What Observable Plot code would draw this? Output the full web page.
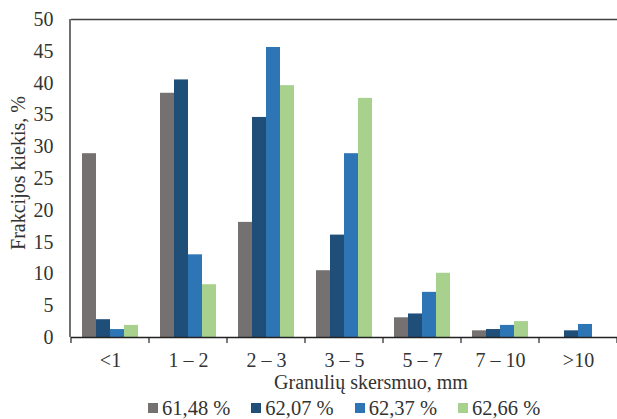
<!DOCTYPE html>
<html>
<head>
<meta charset="utf-8">
<script src="https://cdn.jsdelivr.net/npm/d3@7"></script>
<script src="https://cdn.jsdelivr.net/npm/@observablehq/plot@0.6"></script>
<style>
  html, body { margin: 0; padding: 0; background: #fff; overflow: hidden; }
  #chart svg { display: block; }
  #legend { display: flex; justify-content: flex-start; padding-left: 148px; gap: 21px; font-family: "Liberation Serif", "Times New Roman", serif; font-size: 20.5px; color: #333; height: 26px; align-items: center; }
  #legend .item { display: flex; align-items: center; }
  #legend .sw { width: 10px; height: 10px; margin-right: 4px; }
</style>
</head>
<body>
<div id="chart"></div>
<div id="legend"></div>
<script>
const categories = ["<1", "1 – 2", "2 – 3", "3 – 5", "5 – 7", "7 – 10", ">10"];
const seriesNames = ["61,48 %", "62,07 %", "62,37 %", "62,66 %"];
const s6148 = [28.9, 38.4, 18.1, 10.5, 3.1, 1.05, 0];
const s6207 = [2.8, 40.5, 34.6, 16.1, 3.7, 1.25, 1.05];
const s6237 = [1.25, 13.0, 45.6, 28.9, 7.1, 1.9, 2.05];
const s6266 = [1.9, 8.3, 39.6, 37.6, 10.1, 2.5, 0];
const yTicks = [0, 5, 10, 15, 20, 25, 30, 35, 40, 45, 50];
const colors = ["#767171", "#1F4E79", "#2E75B6", "#A9D18E"];
const xTitle = "Granulių skersmuo, mm";
const yTitle = "Frakcijos kiekis, %";

const seriesValues = [s6148, s6207, s6237, s6266];
const data = [];
categories.forEach((c, i) => {
  seriesNames.forEach((s, j) => {
    data.push({cat: c, series: s, value: seriesValues[j][i]});
  });
});

const W = 617, H = 395;
const plot = Plot.plot({
  width: W,
  height: H,
  marginLeft: 70,
  marginRight: 0,
  marginTop: 19,
  marginBottom: 58,
  style: {fontFamily: "'Liberation Serif', 'Times New Roman', serif", fontSize: "20px", color: "#333", background: "#fff"},
  fx: {domain: categories, padding: 0, label: null},
  x: {domain: seriesNames, paddingInner: 0, paddingOuter: 0.75, axis: null},
  y: {domain: [0, 50], label: null},
  color: {domain: seriesNames, range: colors},
  marks: [
    Plot.barY(data, {fx: "cat", x: "series", y: "value", fill: "series"}),
    Plot.ruleY([50], {stroke: "#404040", strokeWidth: 1.5}),
    Plot.ruleY([0], {stroke: "#222", strokeWidth: 1.5}),
    Plot.axisY({ticks: yTicks, tickSize: 0, tickPadding: 18, fontSize: 20, label: null, fill: "#333"}),
    Plot.axisFx({anchor: "bottom", tickSize: 0, tickPadding: 15, fontSize: 20, label: null, fill: "#333"})
  ]
});
document.getElementById("chart").appendChild(plot);

// Frame left edge, category boundary ticks, axis titles drawn from the Plot scales
const svg = d3.select(plot);
const fx = plot.scale("fx");
const y = plot.scale("y");
const x0 = fx.range[0];
svg.append("line")
  .attr("x1", x0).attr("x2", x0)
  .attr("y1", y.apply(50)).attr("y2", y.apply(0))
  .attr("stroke", "#404040").attr("stroke-width", 1.5);
const bounds = categories.map(c => fx.apply(c)).concat([fx.apply(categories[categories.length - 1]) + fx.step]);
bounds.forEach(b => {
  svg.append("line")
    .attr("x1", b).attr("x2", b)
    .attr("y1", y.apply(0)).attr("y2", y.apply(0) + 6)
    .attr("stroke", "#222").attr("stroke-width", 1.2);
});
svg.append("text")
  .attr("x", 371).attr("y", 389)
  .attr("text-anchor", "middle")
  .attr("font-size", 20)
  .attr("fill", "#333")
  .text(xTitle);
svg.append("text")
  .attr("transform", `translate(25, ${(y.apply(0) + y.apply(50)) / 2 - 5}) rotate(-90)`)
  .attr("text-anchor", "middle")
  .attr("font-size", 20)
  .attr("fill", "#333")
  .text(yTitle);

// Legend
const legend = d3.select("#legend");
seriesNames.forEach((s, i) => {
  const it = legend.append("div").attr("class", "item");
  it.append("div").attr("class", "sw").style("background", colors[i]);
  it.append("span").text(s);
});
</script>
</body>
</html>
